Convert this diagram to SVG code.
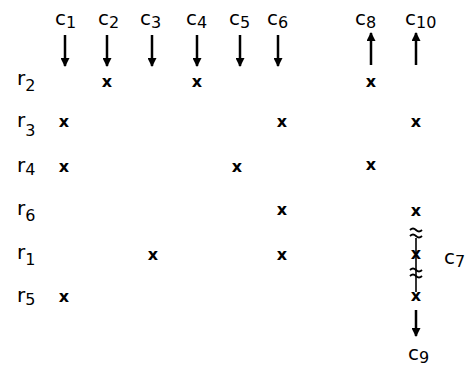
<svg xmlns="http://www.w3.org/2000/svg" width="473" height="366" viewBox="0 0 473 366">
<defs>
<marker id="ah" viewBox="0 0 10 10" refX="9" refY="5" markerWidth="4.5" markerHeight="3.6" orient="auto" markerUnits="strokeWidth">
<path d="M0,0 L10,5 L0,10 Z" fill="#000"/>
</marker>
</defs>
<style>
.lbl{font-family:"DejaVu Sans","Liberation Sans",sans-serif;font-size:20px;fill:#000}
.sub{font-size:16px}
.x{font-family:"DejaVu Sans","Liberation Sans",sans-serif;font-size:16px;font-weight:bold;fill:#000;text-anchor:middle}
.ar{stroke:#000;stroke-width:2.5;fill:none;marker-end:url(#ah)}
.ln{stroke:#000;stroke-width:1.6;fill:none}
.wv{stroke:#000;stroke-width:1.8;fill:none}
</style>
<rect width="473" height="366" fill="#fff"/>
<g id="col-labels">
<g id="c1"><text class="lbl" x="55" y="25">c<tspan class="sub" dy="3">1</tspan></text></g>
<g id="c2"><text class="lbl" x="98" y="25">c<tspan class="sub" dy="3">2</tspan></text></g>
<g id="c3"><text class="lbl" x="140" y="25">c<tspan class="sub" dy="3">3</tspan></text></g>
<g id="c4"><text class="lbl" x="186" y="25">c<tspan class="sub" dy="3">4</tspan></text></g>
<g id="c5"><text class="lbl" x="229" y="25">c<tspan class="sub" dy="3">5</tspan></text></g>
<g id="c6"><text class="lbl" x="267" y="25">c<tspan class="sub" dy="3">6</tspan></text></g>
<g id="c8"><text class="lbl" x="355" y="25">c<tspan class="sub" dy="3">8</tspan></text></g>
<g id="c10"><text class="lbl" x="405" y="25">c<tspan class="sub" dy="3">10</tspan></text></g>
<g id="c7"><text class="lbl" x="444" y="264">c<tspan class="sub" dy="3">7</tspan></text></g>
<g id="c9"><text class="lbl" x="408" y="360">c<tspan class="sub" dy="3">9</tspan></text></g>
</g>
<g id="row-labels">
<g id="r2"><text class="lbl" x="17" y="85">r<tspan class="sub" dy="6">2</tspan></text></g>
<g id="r3"><text class="lbl" x="17" y="127">r<tspan class="sub" dy="9">3</tspan></text></g>
<g id="r4"><text class="lbl" x="17" y="172">r<tspan class="sub" dy="3">4</tspan></text></g>
<g id="r6"><text class="lbl" x="17" y="215">r<tspan class="sub" dy="6">6</tspan></text></g>
<g id="r1"><text class="lbl" x="17" y="259">r<tspan class="sub" dy="6">1</tspan></text></g>
<g id="r5"><text class="lbl" x="17" y="302">r<tspan class="sub" dy="3">5</tspan></text></g>
</g>
<g id="connectors">
<line class="ar" x1="65" y1="35" x2="65" y2="66"/>
<line class="ar" x1="107" y1="35" x2="107" y2="66"/>
<line class="ar" x1="152" y1="35" x2="152" y2="66"/>
<line class="ar" x1="197" y1="35" x2="197" y2="66"/>
<line class="ar" x1="240" y1="35" x2="240" y2="66"/>
<line class="ar" x1="278" y1="35" x2="278" y2="66"/>
<line class="ar" x1="371" y1="65" x2="371" y2="33"/>
<line class="ar" x1="416" y1="65" x2="416" y2="33"/>
<line class="ln" x1="416" y1="238" x2="416" y2="292"/>
<line class="ar" x1="416" y1="310" x2="416" y2="336"/>
<path class="wv" d="M410,230 q3,-3 6,0 t6,0 M410,236 q3,-3 6,0 t6,0"/>
<path class="wv" d="M410,270 q3,-3 6,0 t6,0 M410,276 q3,-3 6,0 t6,0"/>
</g>
<g id="marks">
<text class="x" x="107" y="87">x</text>
<text class="x" x="197" y="87">x</text>
<text class="x" x="371" y="87">x</text>
<text class="x" x="64" y="127">x</text>
<text class="x" x="282" y="127">x</text>
<text class="x" x="416" y="127">x</text>
<text class="x" x="64" y="172">x</text>
<text class="x" x="237" y="172">x</text>
<text class="x" x="371" y="170">x</text>
<text class="x" x="282" y="215">x</text>
<text class="x" x="416" y="216">x</text>
<text class="x" x="153" y="260">x</text>
<text class="x" x="282" y="260">x</text>
<text class="x" x="416" y="259">x</text>
<text class="x" x="64" y="302">x</text>
<text class="x" x="416" y="301">x</text>
</g>
</svg>
